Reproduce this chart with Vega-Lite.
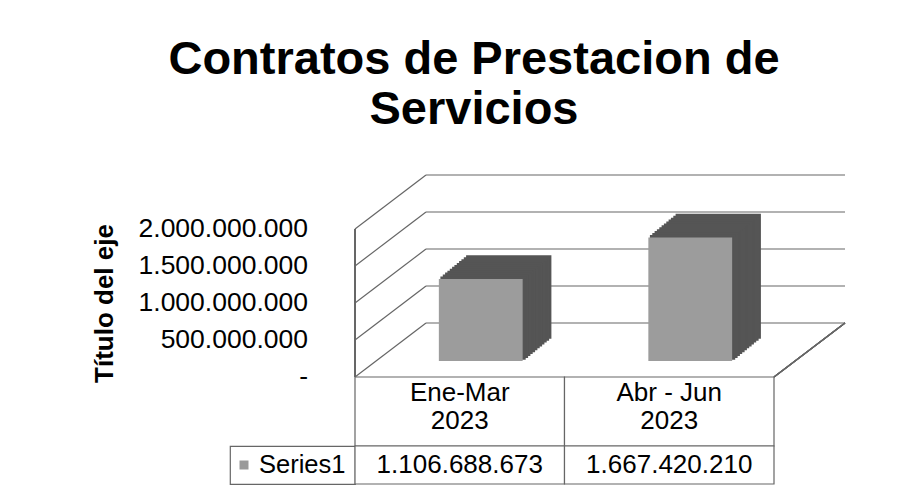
{
  "$schema": "https://vega.github.io/schema/vega-lite/v6.json",
  "padding": {"left": 91, "top": 36, "right": 0, "bottom": 0},
  "background": "white",
  "config": {
    "font": "Liberation Sans",
    "view": {"stroke": null},
    "locale": {"number": {"decimal": ",", "thousands": ".", "grouping": [3], "currency": ["$", ""]}}
  },
  "title": {
    "text": ["Contratos de Prestacion de", "Servicios"],
    "fontSize": 47, "fontWeight": "bold", "lineHeight": 50, "color": "black",
    "anchor": "start", "align": "center", "frame": "group", "dx": 244, "offset": 40
  },
  "datasets": {
    "series": [
      {"q": "Ene-Mar 2023", "label": "Ene-Mar\n2023", "value": 1106688673},
      {"q": "Abr - Jun 2023", "label": "Abr - Jun\n2023", "value": 1667420210}
    ],
    "ticks": [{"v": 0}, {"v": 500000000}, {"v": 1000000000}, {"v": 1500000000}, {"v": 2000000000}],
    "legend": [{"serie": "Series1"}]
  },
  "columns": 2,
  "bounds": "flush",
  "align": "each",
  "spacing": 0,
  "concat": [
    {"width": 125, "height": 148, "data": {"values": []}, "mark": "point"},
    {
      "width": 419, "height": 148,
      "layer": [
        {
          "data": {"name": "ticks"},
          "mark": {"type": "rule", "color": "#666", "strokeWidth": 1.2, "xOffset": 71, "x2Offset": 175.75, "yOffset": -54, "y2Offset": -54},
          "encoding": {
            "x": {"datum": "Ene-Mar 2023", "type": "nominal", "bandPosition": 0,
              "scale": {"domain": ["Ene-Mar 2023", "Abr - Jun 2023"], "paddingInner": 0, "paddingOuter": 0}, "axis": null},
            "x2": {"datum": "Abr - Jun 2023"},
            "y": {"field": "v", "type": "quantitative",
              "scale": {"domain": [0, 2000000000], "nice": false},
              "axis": {"labels": false, "ticks": false, "domain": false, "grid": false,
                "title": "Título del eje", "titleFontSize": 26, "titleFontWeight": "bold", "titleColor": "black", "titlePadding": 238}},
            "y2": {"field": "v"}
          }
        },
        {
          "data": {"name": "ticks"},
          "mark": {"type": "text", "align": "right", "baseline": "middle", "dx": -47, "fontSize": 26.5, "color": "black"},
          "encoding": {
            "x": {"datum": "Ene-Mar 2023", "type": "nominal", "bandPosition": 0},
            "y": {"field": "v", "type": "quantitative"},
            "text": {"condition": {"test": "datum.v == 0", "value": "-"}, "field": "v", "type": "quantitative", "format": ",.0f"}
          }
        },
        {
          "data": {"name": "ticks"},
          "mark": {"type": "rule", "color": "#666", "strokeWidth": 1.2, "x2Offset": -33.75, "y2Offset": -54},
          "encoding": {
            "x": {"datum": "Ene-Mar 2023", "type": "nominal", "bandPosition": 0},
            "x2": {"datum": "Ene-Mar 2023"},
            "y": {"field": "v", "type": "quantitative"},
            "y2": {"field": "v"}
          }
        },
        {
          "data": {"name": "ticks"},
          "mark": {"type": "rule", "color": "#666", "strokeWidth": 1.2},
          "encoding": {
            "x": {"datum": "Ene-Mar 2023", "type": "nominal", "bandPosition": 0},
            "y": {"datum": 0, "type": "quantitative"},
            "y2": {"datum": 2000000000}
          }
        },
        {
          "data": {"name": "ticks"},
          "mark": {"type": "rule", "color": "#666", "strokeWidth": 1.2, "x2Offset": 175.75, "y2Offset": -54},
          "encoding": {
            "x": {"datum": "Abr - Jun 2023", "type": "nominal", "bandPosition": 1},
            "x2": {"datum": "Abr - Jun 2023"},
            "y": {"datum": 0, "type": "quantitative"},
            "y2": {"datum": 0}
          }
        },
        {"data": {"name": "series"}, "mark": {"type": "bar", "width": {"band": 0.4}, "color": "#555", "stroke": "#555", "strokeWidth": 1.5, "xOffset": 49, "yOffset": -39}, "encoding": {"x": {"field": "q", "type": "nominal"}, "y": {"field": "value", "type": "quantitative"}}},
        {"data": {"name": "series"}, "mark": {"type": "bar", "width": {"band": 0.4}, "color": "#555", "stroke": "#555", "strokeWidth": 1.5, "xOffset": 46.7, "yOffset": -37.1}, "encoding": {"x": {"field": "q", "type": "nominal"}, "y": {"field": "value", "type": "quantitative"}}},
        {"data": {"name": "series"}, "mark": {"type": "bar", "width": {"band": 0.4}, "color": "#555", "stroke": "#555", "strokeWidth": 1.5, "xOffset": 44.3, "yOffset": -35.2}, "encoding": {"x": {"field": "q", "type": "nominal"}, "y": {"field": "value", "type": "quantitative"}}},
        {"data": {"name": "series"}, "mark": {"type": "bar", "width": {"band": 0.4}, "color": "#555", "stroke": "#555", "strokeWidth": 1.5, "xOffset": 42, "yOffset": -33.3}, "encoding": {"x": {"field": "q", "type": "nominal"}, "y": {"field": "value", "type": "quantitative"}}},
        {"data": {"name": "series"}, "mark": {"type": "bar", "width": {"band": 0.4}, "color": "#555", "stroke": "#555", "strokeWidth": 1.5, "xOffset": 39.7, "yOffset": -31.3}, "encoding": {"x": {"field": "q", "type": "nominal"}, "y": {"field": "value", "type": "quantitative"}}},
        {"data": {"name": "series"}, "mark": {"type": "bar", "width": {"band": 0.4}, "color": "#555", "stroke": "#555", "strokeWidth": 1.5, "xOffset": 37.3, "yOffset": -29.4}, "encoding": {"x": {"field": "q", "type": "nominal"}, "y": {"field": "value", "type": "quantitative"}}},
        {"data": {"name": "series"}, "mark": {"type": "bar", "width": {"band": 0.4}, "color": "#555", "stroke": "#555", "strokeWidth": 1.5, "xOffset": 35, "yOffset": -27.5}, "encoding": {"x": {"field": "q", "type": "nominal"}, "y": {"field": "value", "type": "quantitative"}}},
        {"data": {"name": "series"}, "mark": {"type": "bar", "width": {"band": 0.4}, "color": "#555", "stroke": "#555", "strokeWidth": 1.5, "xOffset": 32.7, "yOffset": -25.6}, "encoding": {"x": {"field": "q", "type": "nominal"}, "y": {"field": "value", "type": "quantitative"}}},
        {"data": {"name": "series"}, "mark": {"type": "bar", "width": {"band": 0.4}, "color": "#555", "stroke": "#555", "strokeWidth": 1.5, "xOffset": 30.3, "yOffset": -23.7}, "encoding": {"x": {"field": "q", "type": "nominal"}, "y": {"field": "value", "type": "quantitative"}}},
        {"data": {"name": "series"}, "mark": {"type": "bar", "width": {"band": 0.4}, "color": "#555", "stroke": "#555", "strokeWidth": 1.5, "xOffset": 28, "yOffset": -21.8}, "encoding": {"x": {"field": "q", "type": "nominal"}, "y": {"field": "value", "type": "quantitative"}}},
        {"data": {"name": "series"}, "mark": {"type": "bar", "width": {"band": 0.4}, "color": "#555", "stroke": "#555", "strokeWidth": 1.5, "xOffset": 25.7, "yOffset": -19.8}, "encoding": {"x": {"field": "q", "type": "nominal"}, "y": {"field": "value", "type": "quantitative"}}},
        {"data": {"name": "series"}, "mark": {"type": "bar", "width": {"band": 0.4}, "color": "#555", "stroke": "#555", "strokeWidth": 1.5, "xOffset": 23.3, "yOffset": -17.9}, "encoding": {"x": {"field": "q", "type": "nominal"}, "y": {"field": "value", "type": "quantitative"}}},
        {"data": {"name": "series"}, "mark": {"type": "bar", "width": {"band": 0.4}, "color": "#9c9c9c", "xOffset": 21, "yOffset": -16}, "encoding": {"x": {"field": "q", "type": "nominal"}, "y": {"field": "value", "type": "quantitative"}}}
      ]
    },
    {"width": 125, "height": 69, "data": {"values": []}, "mark": "point"},
    {
      "width": 419, "height": 69,
      "data": {"name": "series"},
      "layer": [
        {"mark": {"type": "bar", "fill": "white", "stroke": "#666", "strokeWidth": 1.2},
          "encoding": {"x": {"field": "q", "type": "nominal", "scale": {"domain": ["Ene-Mar 2023", "Abr - Jun 2023"], "paddingInner": 0, "paddingOuter": 0}, "axis": null}}},
        {"mark": {"type": "text", "fontSize": 26, "lineBreak": "\n", "lineHeight": 28, "dy": -19, "color": "black"},
          "encoding": {"x": {"field": "q", "type": "nominal"}, "text": {"field": "label"}}}
      ]
    },
    {
      "width": 125, "height": 38,
      "view": {"stroke": "#666", "strokeWidth": 1.2},
      "data": {"name": "legend"},
      "layer": [
        {"mark": {"type": "point", "shape": "square", "filled": true, "size": 81, "color": "#9a9a9a", "opacity": 1, "xOffset": -48.5},
          "encoding": {"x": {"field": "serie", "type": "nominal", "axis": null}}},
        {"mark": {"type": "text", "align": "left", "dx": -33.5, "fontSize": 25.5, "color": "black"},
          "encoding": {"x": {"field": "serie", "type": "nominal"}, "text": {"field": "serie"}}}
      ]
    },
    {
      "width": 419, "height": 38,
      "data": {"name": "series"},
      "layer": [
        {"mark": {"type": "bar", "fill": "white", "stroke": "#666", "strokeWidth": 1.2},
          "encoding": {"x": {"field": "q", "type": "nominal", "scale": {"domain": ["Ene-Mar 2023", "Abr - Jun 2023"], "paddingInner": 0, "paddingOuter": 0}, "axis": null}}},
        {"mark": {"type": "text", "fontSize": 26, "color": "black"},
          "encoding": {"x": {"field": "q", "type": "nominal"}, "text": {"field": "value", "type": "quantitative", "format": ",.0f"}}}
      ]
    }
  ]
}
